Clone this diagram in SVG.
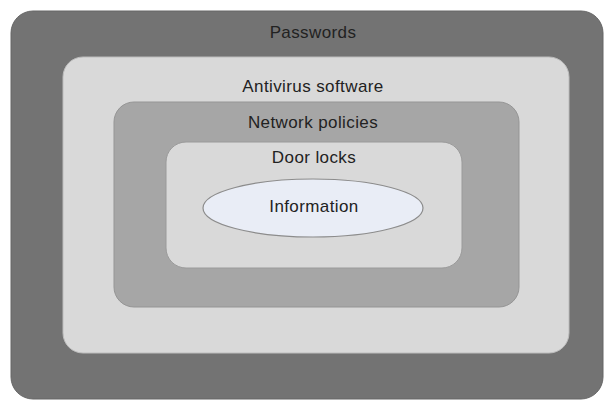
<svg xmlns="http://www.w3.org/2000/svg" width="610" height="401" viewBox="0 0 610 401">
<style>
.lbl{font-family:"Liberation Sans",Arial,sans-serif;font-size:17px;letter-spacing:0.4px;fill:#222;text-anchor:middle}
</style>
<rect width="610" height="401" fill="#ffffff"/>
<g id="passwords">
<rect x="11" y="11" width="592" height="388" rx="22" fill="#737373" stroke="#666666" stroke-width="1"/>
<text class="lbl" x="313" y="38">Passwords</text>
</g>
<g id="antivirus">
<rect x="63" y="57" width="506" height="296" rx="20" fill="#d9d9d9" stroke="#bdbdbd" stroke-width="1"/>
<text class="lbl" x="313" y="92">Antivirus software</text>
</g>
<g id="network">
<rect x="114" y="102" width="405" height="205" rx="20" fill="#a6a6a6" stroke="#959595" stroke-width="1"/>
<text class="lbl" x="313" y="128">Network policies</text>
</g>
<g id="doorlocks">
<rect x="166" y="142" width="296" height="126" rx="20" fill="#d9d9d9" stroke="#9a9a9a" stroke-width="1"/>
<text class="lbl" x="314" y="163">Door locks</text>
</g>
<g id="information">
<ellipse cx="313" cy="208" rx="110" ry="29" fill="#e9edf6" stroke="#8c8c8c" stroke-width="1.2"/>
<text class="lbl" x="314" y="212">Information</text>
</g>
<g id="connectors"></g>
</svg>
